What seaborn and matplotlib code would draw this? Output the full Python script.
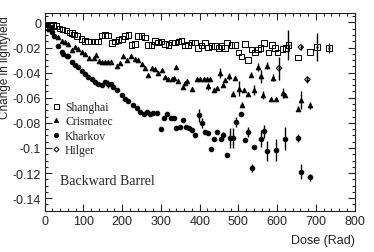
import numpy as np
import pandas as pd
import seaborn as sns
import matplotlib.pyplot as plt
from matplotlib.lines import Line2D
from matplotlib.ticker import MultipleLocator, FuncFormatter

# --- data (dose in rad, relative change in light yield) ---
shanghai_dose = [8, 14, 22, 30, 38, 46, 56, 64, 70, 76, 84, 95, 104, 112, 120, 130, 138,
                 147, 156, 164, 173, 181, 190, 199, 207, 216, 224, 233, 241, 250, 259, 267,
                 276, 285, 293, 302, 310, 319, 328, 336, 345, 353, 362, 370, 379, 388, 396,
                 405, 413, 422, 431, 439, 448, 456, 465, 471, 482, 491, 500, 508, 517, 525,
                 534, 543, 551, 557, 566, 577, 586, 594, 601, 614, 623, 629, 653, 684, 702, 734]
shanghai_val = [-0.004, -0.0027, -0.002, -0.0027, -0.0048, -0.0058, -0.0066, -0.0079, -0.0085,
                -0.0095, -0.011, -0.0133, -0.0146, -0.0153, -0.0153, -0.0153, -0.0153, -0.0106,
                -0.010, -0.0106, -0.0164, -0.0153, -0.014, -0.013, -0.011, -0.010, -0.018,
                -0.017, -0.011, -0.011, -0.012, -0.018, -0.018, -0.0146, -0.016, -0.0153,
                -0.017, -0.018, -0.016, -0.016, -0.0153, -0.0146, -0.0185, -0.018, -0.016,
                -0.016, -0.0206, -0.0185, -0.016, -0.020, -0.019, -0.019, -0.0206, -0.019,
                -0.0206, -0.016, -0.018, -0.018, -0.024, -0.027, -0.017, -0.030, -0.0217,
                -0.024, -0.0217, -0.0206, -0.0164, -0.024, -0.018, -0.0206, -0.024, -0.021,
                -0.0206, -0.018, -0.028, -0.0237, -0.0198, -0.0206]
shanghai_err = [0] * 73 + [0.012, 0, 0, 0.011, 0.004]

crismatec_dose = [10, 20, 35, 44, 52, 61, 70, 78, 87, 95, 104, 115, 127, 133, 141, 147, 155,
                  164, 172, 186, 194, 203, 212, 224, 233, 241, 250, 258, 267, 276, 285, 293,
                  302, 310, 319, 328, 334, 340, 345, 358, 362, 368, 379, 392, 401, 410, 418,
                  422, 427, 437, 445, 452, 460, 466, 475, 485, 492, 502, 508, 515, 525, 532,
                  540, 550, 557, 564, 573, 583, 590, 598, 614, 621, 653, 661, 685]
crismatec_val = [-0.005, -0.004, -0.012, -0.0146, -0.016, -0.0175, -0.0217, -0.0198, -0.021,
                 -0.0238, -0.025, -0.0285, -0.028, -0.026, -0.031, -0.0312, -0.0312, -0.0312,
                 -0.0312, -0.0344, -0.032, -0.0265, -0.030, -0.0265, -0.029, -0.030, -0.033,
                 -0.036, -0.042, -0.036, -0.037, -0.040, -0.038, -0.0436, -0.045, -0.045,
                 -0.044, -0.0357, -0.0465, -0.0515, -0.048, -0.047, -0.053, -0.045, -0.045,
                 -0.045, -0.045, -0.051, -0.045, -0.0536, -0.052, -0.040, -0.050, -0.046,
                 -0.043, -0.057, -0.044, -0.053, -0.0655, -0.054, -0.057, -0.0415, -0.054,
                 -0.0357, -0.043, -0.058, -0.0344, -0.061, -0.044, -0.061, -0.056, -0.058,
                 -0.0687, -0.062, -0.066]
crismatec_err = [0] * 47 + [0.003, 0, 0, 0, 0.004, 0, 0, 0.003, 0.002, 0, 0.006, 0.002, 0, 0,
                            0.002, 0.004, 0.003, 0.005, 0.003, 0.003, 0, 0.003, 0, 0.004, 0,
                            0.002, 0.007, 0.003]

kharkov_dose = [5, 18, 25, 35, 44, 48, 57, 61, 70, 78, 87, 95, 104, 113, 121, 130, 138, 147,
                155, 164, 172, 177, 186, 199, 207, 216, 229, 237, 246, 255, 263, 272, 280, 289,
                299, 308, 316, 325, 333, 340, 349, 356, 364, 373, 381, 389, 397, 405, 413, 422,
                428, 437, 445, 454, 460, 470, 479, 486, 494, 506, 518, 525, 534, 541, 557, 566,
                573, 597, 621, 653, 661, 685]
kharkov_val = [-0.002, -0.008, -0.0106, -0.0185, -0.0238, -0.025, -0.0264, -0.027, -0.0317,
               -0.0343, -0.0357, -0.0383, -0.041, -0.0436, -0.045, -0.0475, -0.049, -0.050,
               -0.0475, -0.049, -0.049, -0.0515, -0.054, -0.058, -0.061, -0.0625, -0.066,
               -0.068, -0.0713, -0.0726, -0.0713, -0.0726, -0.072, -0.072, -0.085, -0.076,
               -0.073, -0.076, -0.076, -0.084, -0.083, -0.078, -0.083, -0.084, -0.086, -0.090,
               -0.074, -0.080, -0.087, -0.088, -0.101, -0.093, -0.087, -0.093, -0.090, -0.1057,
               -0.092, -0.092, -0.079, -0.0727, -0.094, -0.087, -0.116, -0.099, -0.0925,
               -0.0867, -0.1025, -0.1017, -0.0925, -0.092, -0.119, -0.1234]
kharkov_err = [0] * 19 + [0.003] + [0] * 26 + [0.005, 0.004, 0, 0, 0, 0, 0, 0, 0.003, 0,
                                              0.008, 0.008, 0.004, 0, 0, 0.004, 0.003, 0,
                                              0.007, 0.005, 0.008, 0.009, 0.009, 0.003,
                                              0.006, 0.003]

hilger_dose = [605, 661, 678]
hilger_val = [-0.0365, -0.0198, -0.0455]
hilger_err = [0.009, 0.002, 0.003]

series = [
    ('Shanghai', shanghai_dose, shanghai_val, shanghai_err, 's', 'none', 16),
    ('Crismatec', crismatec_dose, crismatec_val, crismatec_err, '^', 'black', 11),
    ('Kharkov', kharkov_dose, kharkov_val, kharkov_err, 'o', 'black', 11),
    ('Hilger', hilger_dose, hilger_val, hilger_err, 'D', 'none', 8),
]

sns.set_style('ticks')
plt.rcParams['font.family'] = ['Liberation Sans', 'DejaVu Sans']

fig = plt.figure(figsize=(3.74, 2.53), dpi=100)
ax = fig.add_axes([0.1195, 0.163, 0.8289, 0.7817])

handles = []
for name, dose, val, err, mk, fc, sz in series:
    df = pd.DataFrame({'dose': dose, 'val': val, 'err': err})
    e = df[df['err'] > 0]
    ax.errorbar(e['dose'], e['val'], yerr=e['err'], xerr=3, fmt='none',
                ecolor='black', elinewidth=1.0, capsize=0, zorder=2)
    sns.scatterplot(data=df, x='dose', y='val', marker=mk, s=sz, facecolor=fc,
                    edgecolor='black', linewidth=0.7, ax=ax, zorder=3)
    handles.append(Line2D([], [], ls='none', marker=mk, mfc=fc, mec='black',
                          mew=0.7, ms=np.sqrt(sz) * 0.9, label=name))

ax.set_xlim(0, 800)
ax.set_ylim(-0.15, 0.0075)
ax.xaxis.set_major_locator(MultipleLocator(100))
ax.xaxis.set_minor_locator(MultipleLocator(20))
ax.yaxis.set_major_locator(MultipleLocator(0.02))
ax.yaxis.set_minor_locator(MultipleLocator(0.005))
ax.yaxis.set_major_formatter(FuncFormatter(lambda v, p: '0' if abs(v) < 1e-9 else f'{v:g}'))
ax.tick_params(which='both', direction='in', top=True, right=True, labelsize=9, width=0.8)
ax.tick_params(which='major', length=5)
ax.tick_params(which='minor', length=2.5)
ax.tick_params(axis='x', pad=3)
ax.tick_params(axis='y', pad=2.5)
for sp in ax.spines.values():
    sp.set_linewidth(0.8)

ax.set_xlabel('Dose (Rad)', fontsize=9, loc='right')
ax.xaxis.set_label_coords(1.0, -0.12)
ax.set_ylabel('Change in lightyield', fontsize=8.5, loc='top')
ax.yaxis.set_label_coords(-0.108, 0.99)

ax.legend(handles=handles, loc='upper left', bbox_to_anchor=(0.02, 0.555), frameon=False,
          prop={'family': 'Liberation Serif', 'size': 8.5}, handlelength=0.8,
          handletextpad=0.4, labelspacing=0.2, borderpad=0, borderaxespad=0)
ax.text(39.5, -0.126, 'Backward Barrel', family='Liberation Serif', fontsize=10, va='center')

fig.savefig('out.png', dpi=100)
